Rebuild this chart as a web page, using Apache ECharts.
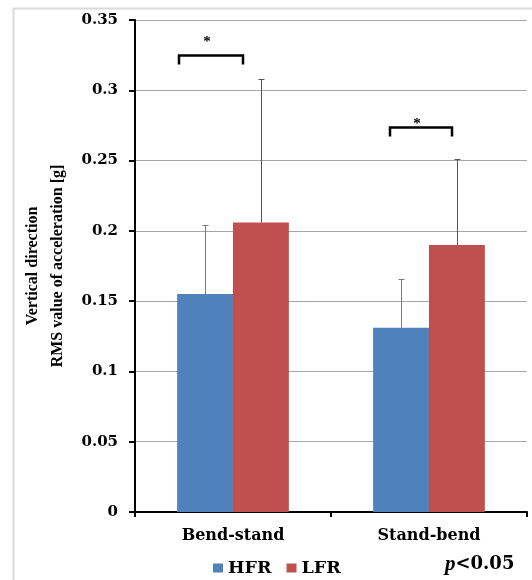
<!DOCTYPE html>
<html>
<head>
<meta charset="utf-8">
<script src="https://cdn.jsdelivr.net/npm/echarts@6/dist/echarts.min.js"></script>
<style>
  html, body { margin: 0; padding: 0; background: #fff; }
  #chart { width: 532px; height: 580px; }
</style>
</head>
<body>
<div id="chart"></div>
<script>
// Mean RMS vertical acceleration [g] and standard deviations per movement
const categories = ['Bend-stand', 'Stand-bend'];
const seriesNames = ['HFR', 'LFR'];
const hfrMean = [0.155, 0.131];
const hfrSD = [0.049, 0.035];
const lfrMean = [0.206, 0.190];
const lfrSD = [0.102, 0.061];

// Value axis range
const yMin = 0;
const yMax = 0.35;
const yStep = 0.05;

// Significance brackets (category, bracket level) with their marker
const sigCategory = [0, 1];
const sigLevel = [0.325, 0.274];
const sigMark = ['*', '*'];
const noteText = '<0.05';

const BAR_GAP = 0.43;
const SERIF_WIDE = 'DejaVu Serif';
const SERIF = '"Liberation Serif", "Times New Roman", serif';
const COLORS = ['#4f81bd', '#c0504d'];

// bracket spans in px relative to the category centre, and marker offsets
const BRACKET_SPAN = [[-54, 10], [-39, 23]];
const MARK_OFFSET = [[-4, -13], [-4, -3]];

const chart = echarts.init(document.getElementById('chart'));

function errorBars(means, sds, side, color) {
  return {
    type: 'custom',
    silent: true,
    z: 5,
    encode: { x: 0, y: [1, 2] },
    data: means.map((m, i) => [i, m, m + sds[i]]),
    renderItem(params, api) {
      const c = api.value(0);
      const lo = api.coord([c, api.value(1)]);
      const hi = api.coord([c, api.value(2)]);
      const band = api.size([1, 0])[0];
      const bw = band * (1 - BAR_GAP) / 2;
      const x = Math.round(lo[0] + side * bw / 2) + 0.5;
      const yTop = Math.round(hi[1]) + 0.5;
      return {
        type: 'group',
        children: [
          { type: 'line', shape: { x1: x, y1: lo[1], x2: x, y2: yTop }, style: { stroke: color, lineWidth: 1 } },
          { type: 'line', shape: { x1: x - 3, y1: yTop, x2: x + 3, y2: yTop }, style: { stroke: color, lineWidth: 1 } }
        ]
      };
    }
  };
}

const option = {
  backgroundColor: '#fff',
  animation: false,
  graphic: [
    {
      type: 'rect', left: 11, top: 6, z: -1,
      shape: { width: 700, height: 700 },
      style: { fill: 'none', stroke: '#dadada', lineWidth: 2 }
    },
    {
      type: 'text', left: 445, top: 554,
      style: {
        text: '{p|p}{v|' + noteText + '}',
        rich: {
          p: { fontFamily: SERIF, fontStyle: 'italic', fontWeight: 'bold', fontSize: 21, fill: '#000' },
          v: { fontFamily: SERIF_WIDE, fontWeight: 'bold', fontSize: 18, fill: '#000' }
        }
      }
    }
  ],
  legend: {
    data: seriesNames,
    left: 208,
    top: 554,
    icon: 'rect',
    itemWidth: 10,
    itemHeight: 9,
    itemGap: 15,
    selectedMode: false,
    textStyle: { fontFamily: SERIF_WIDE, fontWeight: 'bold', fontSize: 17.5, color: '#000' }
  },
  grid: { left: 135, right: 5, top: 20, bottom: 68, containLabel: false },
  xAxis: {
    type: 'category',
    data: categories,
    axisLine: { lineStyle: { color: '#000', width: 2 } },
    axisTick: { show: true, length: 5, lineStyle: { color: '#000', width: 2 } },
    axisLabel: { margin: 16, fontFamily: SERIF_WIDE, fontWeight: 'bold', fontSize: 16, color: '#000' },
    splitLine: { show: false }
  },
  yAxis: {
    type: 'value',
    min: yMin,
    max: yMax,
    interval: yStep,
    name: 'Vertical direction\nRMS value of acceleration [g]',
    nameLocation: 'middle',
    nameGap: 65,
    nameTextStyle: { fontFamily: SERIF, fontWeight: 'bold', fontSize: 16, color: '#000', lineHeight: 25, align: 'center' },
    axisLine: { show: true, lineStyle: { color: '#000', width: 2 } },
    axisTick: { show: true, length: 6, lineStyle: { color: '#000', width: 2 } },
    axisLabel: { margin: 17, fontFamily: SERIF_WIDE, fontWeight: 'bold', fontSize: 15, color: '#000' },
    splitLine: { lineStyle: { color: '#a6a6a6', width: 1 } }
  },
  series: [
    {
      name: seriesNames[0], type: 'bar', data: hfrMean,
      barGap: 0, barCategoryGap: (BAR_GAP * 100) + '%',
      itemStyle: { color: COLORS[0] }
    },
    {
      name: seriesNames[1], type: 'bar', data: lfrMean,
      barGap: 0, barCategoryGap: (BAR_GAP * 100) + '%',
      itemStyle: { color: COLORS[1] }
    },
    errorBars(hfrMean, hfrSD, -1, '#7a7a7a'),
    errorBars(lfrMean, lfrSD, 1, '#555555'),
    {
      type: 'custom',
      silent: true,
      z: 6,
      encode: { x: 0, y: 1 },
      data: sigCategory.map((c, i) => [c, sigLevel[i]]),
      renderItem(params, api) {
        const i = params.dataIndex;
        const p = api.coord([api.value(0), api.value(1)]);
        const span = BRACKET_SPAN[i];
        const x1 = p[0] + span[0];
        const x2 = p[0] + span[1];
        const y = Math.round(p[1]) + 0.5;
        const off = MARK_OFFSET[i];
        return {
          type: 'group',
          children: [
            {
              type: 'polyline',
              shape: { points: [[x1, y + 9], [x1, y], [x2, y], [x2, y + 9]] },
              style: { stroke: '#000', lineWidth: 2.5, fill: 'none' }
            },
            {
              type: 'text',
              x: (x1 + x2) / 2 + off[0],
              y: y + off[1],
              style: {
                text: sigMark[i], fontFamily: SERIF, fontWeight: 'bold', fontSize: 15,
                fill: '#000', align: 'center', verticalAlign: 'middle'
              }
            }
          ]
        };
      }
    }
  ]
};

chart.setOption(option);
</script>
</body>
</html>
